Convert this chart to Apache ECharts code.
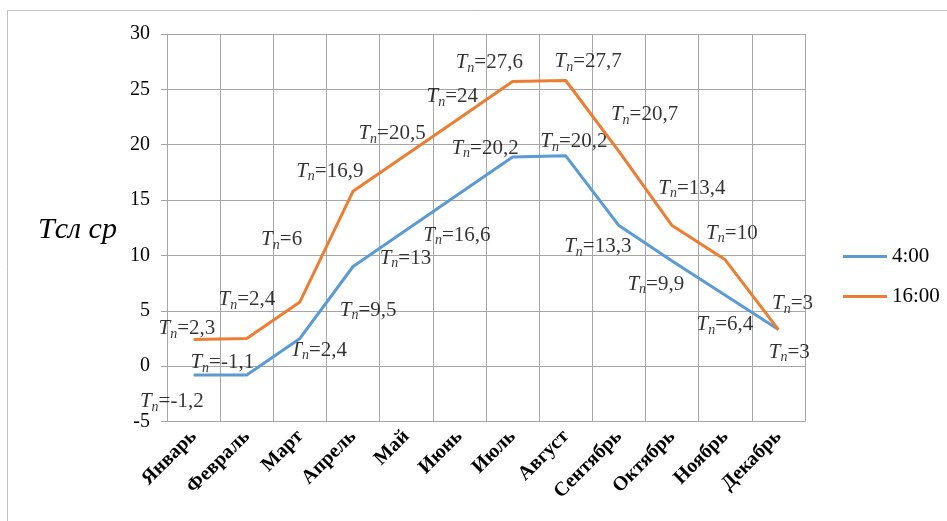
<!DOCTYPE html>
<html>
<head>
<meta charset="utf-8">
<script src="https://cdn.jsdelivr.net/npm/echarts@6/dist/echarts.min.js"></script>
<style>
  html, body { margin: 0; padding: 0; background: #fff; }
  #chart { width: 947px; height: 521px; }
</style>
</head>
<body>
<div id="chart"></div>
<script>
// Months along the category axis
const months = ['Январь', 'Февраль', 'Март', 'Апрель', 'Май', 'Июнь', 'Июль', 'Август', 'Сентябрь', 'Октябрь', 'Ноябрь', 'Декабрь'];
// Mean temperature curves (Tсл ср) for the two times of day
const temp4 = [-0.8, -0.8, 2.5, 9.0, 12.3, 15.6, 18.9, 19.0, 12.7, 9.5, 6.4, 3.3];
const temp16 = [2.4, 2.5, 5.8, 15.8, 19.1, 22.4, 25.7, 25.8, 19.4, 12.7, 9.6, 3.3];
// T_n annotations for each month
const tn4 = [-1.2, -1.1, 2.4, 9.5, 13, 16.6, 20.2, 20.2, 13.3, 9.9, 6.4, 3];
const tn16 = [2.3, 2.4, 6, 16.9, 20.5, 24, 27.6, 27.7, 20.7, 13.4, 10, 3];
// Y axis ticks
const yTicks = [-5, 0, 5, 10, 15, 20, 25, 30];

// Where each T_n annotation sits: [month index, temperature]
const anchors4 = [[-1.01, -3.2], [-0.06, 0.3], [1.82, 1.45], [2.75, 5.06], [3.5, 9.74], [4.32, 11.84], [4.85, 19.68], [6.52, 20.28], [6.97, 10.8], [8.16, 7.4], [9.46, 3.77], [10.82, 1.27]];
const anchors16 = [[-0.66, 3.4], [0.47, 6.0], [1.27, 11.4], [1.93, 17.6], [3.1, 21.0], [4.38, 24.35], [4.93, 27.4], [6.79, 27.5], [7.85, 22.7], [8.74, 16.07], [9.64, 12.0], [10.88, 5.67]];

const FONT = "'Liberation Serif', 'Times New Roman', serif";
const GRID_COLOR = '#a6a6a6';
const BLUE = '#5B9BD5';
const ORANGE = '#ED7D31';
const fmt = v => String(v).replace('.', ',');

const rich = {
  t: { fontFamily: FONT, fontSize: 21, fontStyle: 'italic', color: '#000' },
  n: { fontFamily: FONT, fontSize: 14, fontStyle: 'italic', color: '#000', padding: [11, 0, 0, 0] },
  v: { fontFamily: FONT, fontSize: 21, color: '#000' }
};

// The helper x axis spans month slots [0, 12]; month i is centred at i + 0.5
function annotationSeries(name, anchors, values) {
  return {
    name: name,
    type: 'scatter',
    xAxisIndex: 1,
    yAxisIndex: 0,
    symbolSize: 0,
    clip: false,
    silent: true,
    legendHoverLink: false,
    data: anchors.map((a, i) => ({ value: [a[0] + 0.5, a[1]], tn: values[i] })),
    label: {
      show: true,
      position: 'right',
      distance: 0,
      formatter: p => '{t|T}{n|n}{v|=' + fmt(p.data.tn) + '}',
      rich: rich
    }
  };
}

const chart = echarts.init(document.getElementById('chart'), null, { renderer: 'canvas' });
chart.setOption({
  backgroundColor: '#fff',
  animation: false,
  grid: { left: 167, right: 142, top: 34, bottom: 99.5, containLabel: false },
  legend: {
    orient: 'vertical',
    left: 838,
    top: 241,
    icon: 'rect',
    itemWidth: 44,
    itemHeight: 3,
    itemGap: 19,
    data: [
      { name: '4:00', itemStyle: { color: BLUE } },
      { name: '16:00', itemStyle: { color: ORANGE } }
    ],
    textStyle: { fontFamily: FONT, fontSize: 21, color: '#000', lineHeight: 18 }
  },
  xAxis: [{
    type: 'category',
    data: months,
    boundaryGap: true,
    axisLine: { lineStyle: { color: GRID_COLOR, width: 1 } },
    axisTick: { show: false },
    splitLine: { show: false },
    axisLabel: {
      interval: 0,
      rotate: 45,
      margin: 12,
      fontFamily: FONT,
      fontSize: 20,
      fontWeight: 'bold',
      color: '#000'
    }
  }, {
    // month-slot boundaries: vertical grid lines between the months
    type: 'value',
    min: 0,
    max: months.length,
    interval: 1,
    position: 'bottom',
    axisLine: { show: false },
    axisTick: { show: false },
    axisLabel: { show: false },
    splitLine: { show: true, lineStyle: { color: GRID_COLOR, width: 1 } }
  }],
  yAxis: {
    type: 'value',
    min: yTicks[0],
    max: yTicks[yTicks.length - 1],
    interval: 5,
    axisLine: { show: true, lineStyle: { color: GRID_COLOR, width: 1 } },
    axisTick: { show: true, length: 6, lineStyle: { color: GRID_COLOR } },
    splitLine: { show: true, lineStyle: { color: GRID_COLOR, width: 1 } },
    axisLabel: { fontFamily: FONT, fontSize: 20, color: '#000', margin: 17 }
  },
  graphic: [
    {
      type: 'rect',
      shape: { x: 7.5, y: 10.5, width: 1000, height: 1000 },
      style: { fill: 'none', stroke: '#c0c0c0', lineWidth: 1 },
      silent: true
    },
    {
      type: 'text',
      x: 38,
      y: 230,
      style: {
        text: 'Tсл ср',
        fontFamily: FONT,
        fontSize: 30,
        fontStyle: 'italic',
        fill: '#000',
        verticalAlign: 'middle',
        align: 'left'
      }
    }
  ],
  series: [
    {
      name: '4:00',
      type: 'line',
      data: temp4,
      symbol: 'none',
      lineStyle: { color: BLUE, width: 3 },
      itemStyle: { color: BLUE }
    },
    {
      name: '16:00',
      type: 'line',
      data: temp16,
      symbol: 'none',
      lineStyle: { color: ORANGE, width: 3 },
      itemStyle: { color: ORANGE }
    },
    annotationSeries('tn4', anchors4, tn4),
    annotationSeries('tn16', anchors16, tn16)
  ]
});
</script>
</body>
</html>
